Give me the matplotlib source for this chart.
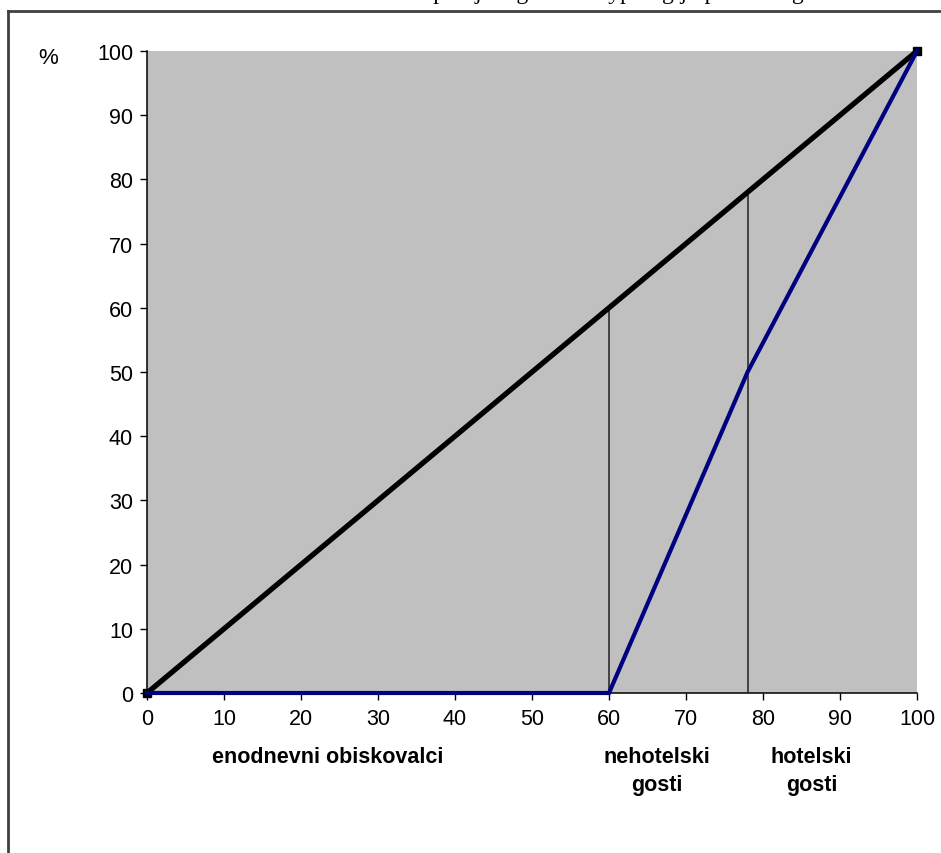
import matplotlib
matplotlib.use("Agg")
import matplotlib.pyplot as plt
from matplotlib.lines import Line2D

# data
diag_x = [0, 100]
diag_y = [0, 100]
curve_x = [0, 60, 78, 100]
curve_y = [0, 0, 50, 100]
split_x = [60, 78]
split_top = [60, 78]
ticks = list(range(0, 101, 10))
groups = ["enodnevni obiskovalci", "nehotelski\ngosti", "hotelski\ngosti"]
group_x = [23.5, 66.2, 86.3]

plt.rcParams["font.family"] = ["Liberation Sans", "DejaVu Sans"]

fig = plt.figure(figsize=(9.41, 8.54), dpi=100)
ax = fig.add_axes([147 / 941, 1 - 694 / 854, 770 / 941, 642 / 854])
ax.set_facecolor("#c0c0c0")

ax.plot(diag_x, diag_y, color="black", lw=3.8, marker="s", ms=6,
        solid_capstyle="butt", clip_on=False, zorder=4)
ax.plot(curve_x, curve_y, color="#000080", lw=3.0, solid_joinstyle="miter",
        clip_on=False, zorder=5)
for x, top in zip(split_x, split_top):
    ax.plot([x, x], [0, top], color="#202020", lw=1.1, zorder=3)

ax.set_xlim(0, 100)
ax.set_ylim(0, 100)
ax.set_xticks(ticks)
ax.set_yticks(ticks)
ax.tick_params(direction="out", length=5, width=1, labelsize=15.5,
               colors="black")
ax.tick_params(axis="x", pad=6)
ax.tick_params(axis="y", pad=5)
for side in ("top", "right"):
    ax.spines[side].set_visible(False)
for side in ("left", "bottom"):
    ax.spines[side].set_linewidth(1.1)

# percent sign at top of y axis
fig.text(48 / 941, 1 - 58 / 854, "%", fontsize=16, ha="center", va="center")

# group labels under the x axis
for lab, gx in zip(groups, group_x):
    ax.text(gx, -8.3, lab, fontsize=15.5, fontweight="bold", ha="center",
            va="top", linespacing=1.4, transform=ax.transData)

# frame around the chart
fig.add_artist(Line2D([8 / 941, 1], [1 - 12 / 854] * 2, color="#404040", lw=2))
fig.add_artist(Line2D([8 / 941] * 2, [0, 1 - 12 / 854], color="#404040", lw=2))

# line of document text above the frame, cut by the top edge
fig.text(0.30, 1 + 1.5 / 854, "enakomerno razporejeni glede na typologijo ponudbe gostov",
         family="Liberation Serif", fontsize=17, ha="left", va="baseline")

fig.savefig("out.png", dpi=100)
